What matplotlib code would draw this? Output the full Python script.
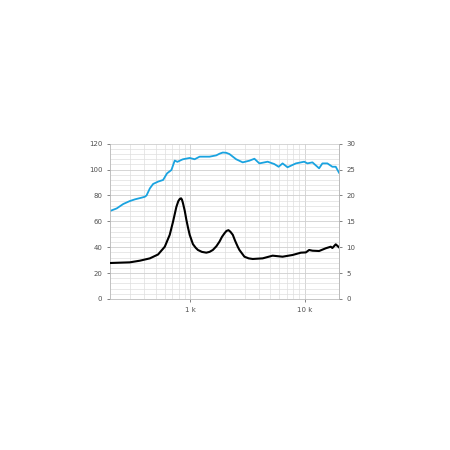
import numpy as np
import matplotlib
matplotlib.use('agg')
from matplotlib import pyplot as plt
from matplotlib.ticker import FixedLocator, MultipleLocator, NullFormatter

# SPL (dB, left axis)
spl_freq = [200, 229, 261, 298, 330, 377, 403, 417, 446, 476, 526, 582, 630,
            688, 735, 776, 841, 868, 993, 1097, 1213, 1387, 1481, 1694, 1810,
            1933, 2070, 2211, 2528, 2885, 3300, 3648, 4032, 4760, 5444, 5935,
            6428, 7102, 8406, 9928, 10604, 11718, 13398, 14316, 15826, 17490,
            18720, 20000]
spl_db = [68.0, 70.0, 73.4, 75.7, 77.0, 78.3, 79.0, 80.0, 85.5, 88.9, 90.7,
          92.0, 97.1, 99.7, 107.0, 106.0, 107.5, 108.0, 109.0, 108.0, 110.0,
          110.0, 110.0, 111.0, 112.3, 113.2, 113.0, 112.0, 108.0, 105.6, 106.9,
          108.4, 104.8, 106.1, 104.3, 102.2, 104.8, 101.8, 104.8, 106.1, 104.8,
          105.6, 101.0, 104.8, 104.8, 102.2, 102.2, 97.6]

# impedance (ohm, right axis)
imp_freq = [200, 298, 365, 446, 526, 602, 665, 710, 760, 790, 815, 835, 850,
            868, 900, 929, 960, 993, 1060, 1120, 1172, 1270, 1387, 1480, 1582,
            1700, 1810, 1900, 2000, 2080, 2166, 2250, 2362, 2480, 2610, 2700,
            2985, 3250, 3526, 4307, 5260, 6428, 7852, 9290, 10268, 10966,
            11718, 13398, 15324, 16940, 17490, 18720, 20000]
imp_ohm = [6.95, 7.08, 7.4, 7.85, 8.6, 10.1, 12.4, 14.9, 17.8, 18.9, 19.35,
           19.45, 19.2, 18.5, 17.0, 15.3, 13.8, 12.4, 10.6, 9.9, 9.47, 9.1,
           8.95, 9.1, 9.47, 10.2, 11.1, 12.0, 12.7, 13.15, 13.3, 13.0, 12.4,
           11.2, 10.1, 9.47, 8.17, 7.85, 7.73, 7.85, 8.37, 8.17, 8.5, 8.95,
           9.0, 9.47, 9.33, 9.27, 9.8, 10.1, 9.85, 10.56, 9.98]

grid_col = '#dedede'
text_col = '#505050'

fig = plt.figure(figsize=(4.5, 4.5), dpi=100)
host = fig.add_axes([0.2444, 0.3356, 0.509, 0.345])
host.set_xscale('log')
host.set_xlim(200, 20000)
host.set_ylim(0, 120)

minor_x = [f * d for d in (100, 1000) for f in range(2, 10)] + [20000]
host.xaxis.set_major_locator(FixedLocator([1000, 10000]))
host.xaxis.set_minor_locator(FixedLocator(minor_x))
host.set_xticklabels(['1 k', '10 k'])
host.xaxis.set_minor_formatter(NullFormatter())
host.yaxis.set_major_locator(MultipleLocator(20))
host.yaxis.set_minor_locator(MultipleLocator(4))

host.grid(True, which='major', color='#cfcfcf', lw=0.6)
host.grid(True, which='minor', color=grid_col, lw=0.5)
host.set_axisbelow(True)

for s in host.spines.values():
    s.set_color('#bbbbbb')
    s.set_linewidth(0.6)
host.spines['top'].set_visible(False)
host.tick_params(which='both', labelsize=5, colors=text_col, length=2, width=0.5)
host.tick_params(which='minor', length=0)

host.plot(spl_freq, spl_db, color='#1aa3e0', lw=1.3)

par1 = host.twinx()
par1.set_ylim(0, 30)
par1.yaxis.set_major_locator(MultipleLocator(5))
for s in par1.spines.values():
    s.set_visible(False)
par1.spines['right'].set_visible(True)
par1.spines['right'].set_color('#bbbbbb')
par1.spines['right'].set_linewidth(0.6)
par1.tick_params(labelsize=5, colors=text_col, length=2, width=0.5)
par1.plot(imp_freq, imp_ohm, color='black', lw=1.5)

plt.savefig('out.png', dpi=100)
